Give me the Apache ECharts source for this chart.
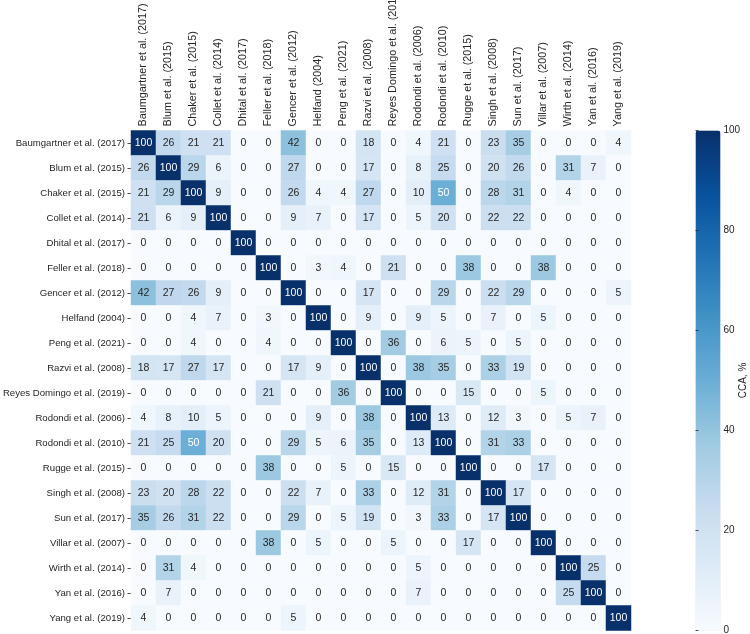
<!DOCTYPE html>
<html><head><meta charset="utf-8">
<script src="https://cdn.jsdelivr.net/npm/echarts@6/dist/echarts.min.js"></script>
<style>html,body{margin:0;padding:0;background:#fff}#c{width:750px;height:634px}</style>
</head><body><div id="c"></div>
<script>
const studies = ["Baumgartner et al. (2017)","Blum et al. (2015)","Chaker et al. (2015)","Collet et al. (2014)","Dhital et al. (2017)","Feller et al. (2018)","Gencer et al. (2012)","Helfand (2004)","Peng et al. (2021)","Razvi et al. (2008)","Reyes Domingo et al. (2019)","Rodondi et al. (2006)","Rodondi et al. (2010)","Rugge et al. (2015)","Singh et al. (2008)","Sun et al. (2017)","Villar et al. (2007)","Wirth et al. (2014)","Yan et al. (2016)","Yang et al. (2019)"];
const rowBaumgartner = [100,26,21,21,0,0,42,0,0,18,0,4,21,0,23,35,0,0,0,4];
const rowBlum        = [26,100,29,6,0,0,27,0,0,17,0,8,25,0,20,26,0,31,7,0];
const rowChaker      = [21,29,100,9,0,0,26,4,4,27,0,10,50,0,28,31,0,4,0,0];
const rowCollet      = [21,6,9,100,0,0,9,7,0,17,0,5,20,0,22,22,0,0,0,0];
const rowDhital      = [0,0,0,0,100,0,0,0,0,0,0,0,0,0,0,0,0,0,0,0];
const rowFeller      = [0,0,0,0,0,100,0,3,4,0,21,0,0,38,0,0,38,0,0,0];
const rowGencer      = [42,27,26,9,0,0,100,0,0,17,0,0,29,0,22,29,0,0,0,5];
const rowHelfand     = [0,0,4,7,0,3,0,100,0,9,0,9,5,0,7,0,5,0,0,0];
const rowPeng        = [0,0,4,0,0,4,0,0,100,0,36,0,6,5,0,5,0,0,0,0];
const rowRazvi       = [18,17,27,17,0,0,17,9,0,100,0,38,35,0,33,19,0,0,0,0];
const rowReyes       = [0,0,0,0,0,21,0,0,36,0,100,0,0,15,0,0,5,0,0,0];
const rowRodondi06   = [4,8,10,5,0,0,0,9,0,38,0,100,13,0,12,3,0,5,7,0];
const rowRodondi10   = [21,25,50,20,0,0,29,5,6,35,0,13,100,0,31,33,0,0,0,0];
const rowRugge       = [0,0,0,0,0,38,0,0,5,0,15,0,0,100,0,0,17,0,0,0];
const rowSingh       = [23,20,28,22,0,0,22,7,0,33,0,12,31,0,100,17,0,0,0,0];
const rowSun         = [35,26,31,22,0,0,29,0,5,19,0,3,33,0,17,100,0,0,0,0];
const rowVillar      = [0,0,0,0,0,38,0,5,0,0,5,0,0,17,0,0,100,0,0,0];
const rowWirth       = [0,31,4,0,0,0,0,0,0,0,0,5,0,0,0,0,0,100,25,0];
const rowYan         = [0,7,0,0,0,0,0,0,0,0,0,7,0,0,0,0,0,25,100,0];
const rowYang        = [4,0,0,0,0,0,5,0,0,0,0,0,0,0,0,0,0,0,0,100];
const colorbarTicks = [0,20,40,60,80,100];

const rows = [rowBaumgartner,rowBlum,rowChaker,rowCollet,rowDhital,rowFeller,rowGencer,rowHelfand,rowPeng,rowRazvi,rowReyes,rowRodondi06,rowRodondi10,rowRugge,rowSingh,rowSun,rowVillar,rowWirth,rowYan,rowYang];
const data = [];
rows.forEach((r, yi) => r.forEach((v, xi) => {
  data.push({value: [xi, yi, v], label: {color: v >= 45 ? '#ffffff' : '#262626'}});
}));
const FONT = 'Liberation Sans, Arial, sans-serif';
const chart = echarts.init(document.getElementById('c'));
chart.setOption({
  animation: false,
  grid: [
    {left: 131, top: 130.5, width: 500, height: 500, outerBoundsMode: 'none', containLabel: false},
    {left: 695.5, top: 130.5, width: 25, height: 500, z: 10, outerBoundsMode: 'none', containLabel: false}
  ],
  xAxis: [
    {type: 'category', data: studies, position: 'top', gridIndex: 0,
     axisLine: {show: false}, splitLine: {show: false},
     axisTick: {show: false},
     axisLabel: {rotate: -90, fontSize: 10.8, color: '#262626', fontFamily: FONT, margin: 4, interval: 0}},
    {type: 'value', gridIndex: 1, show: false, min: 0, max: 1}
  ],
  yAxis: [
    {type: 'category', data: studies, inverse: true, gridIndex: 0,
     axisLine: {show: false}, splitLine: {show: false},
     axisTick: {show: true, alignWithLabel: true, length: 3.5, lineStyle: {color: '#262626', width: 0.8}},
     axisLabel: {fontSize: 9.6, color: '#262626', fontFamily: FONT, margin: 6, interval: 0}},
    {type: 'value', gridIndex: 1, min: colorbarTicks[0], max: colorbarTicks[colorbarTicks.length-1], interval: 20, position: 'right', z: 10,
     axisLine: {show: false}, splitLine: {show: false},
     axisTick: {show: true, length: 3, lineStyle: {color: '#262626', width: 0.8}},
     axisLabel: {fontSize: 10, color: '#262626', fontFamily: FONT, margin: 3, align: 'left'},
     name: 'CCA, %', nameLocation: 'middle', nameGap: 18, nameRotate: 90, nameMoveOverlap: false,
     nameTextStyle: {fontSize: 10, color: '#262626', fontFamily: FONT}}
  ],
  visualMap: {
    type: 'continuous', min: 0, max: 100, calculable: false, hoverLink: false,
    left: 695.5, top: 130.5, itemWidth: 25, itemHeight: 500, padding: 0, z: 1,
    seriesIndex: 0,
    inRange: {color: ['#f7fbff','#deebf7','#c6dbef','#9ecae1','#6baed6','#4292c6','#2171b5','#08519c','#08306b']}
  },
  series: [{
    type: 'heatmap', xAxisIndex: 0, yAxisIndex: 0, data: data,
    label: {show: true, fontSize: 10.5, fontFamily: FONT, formatter: p => p.value[2]},
    itemStyle: {borderWidth: 0}
  }]
});
</script></body></html>
